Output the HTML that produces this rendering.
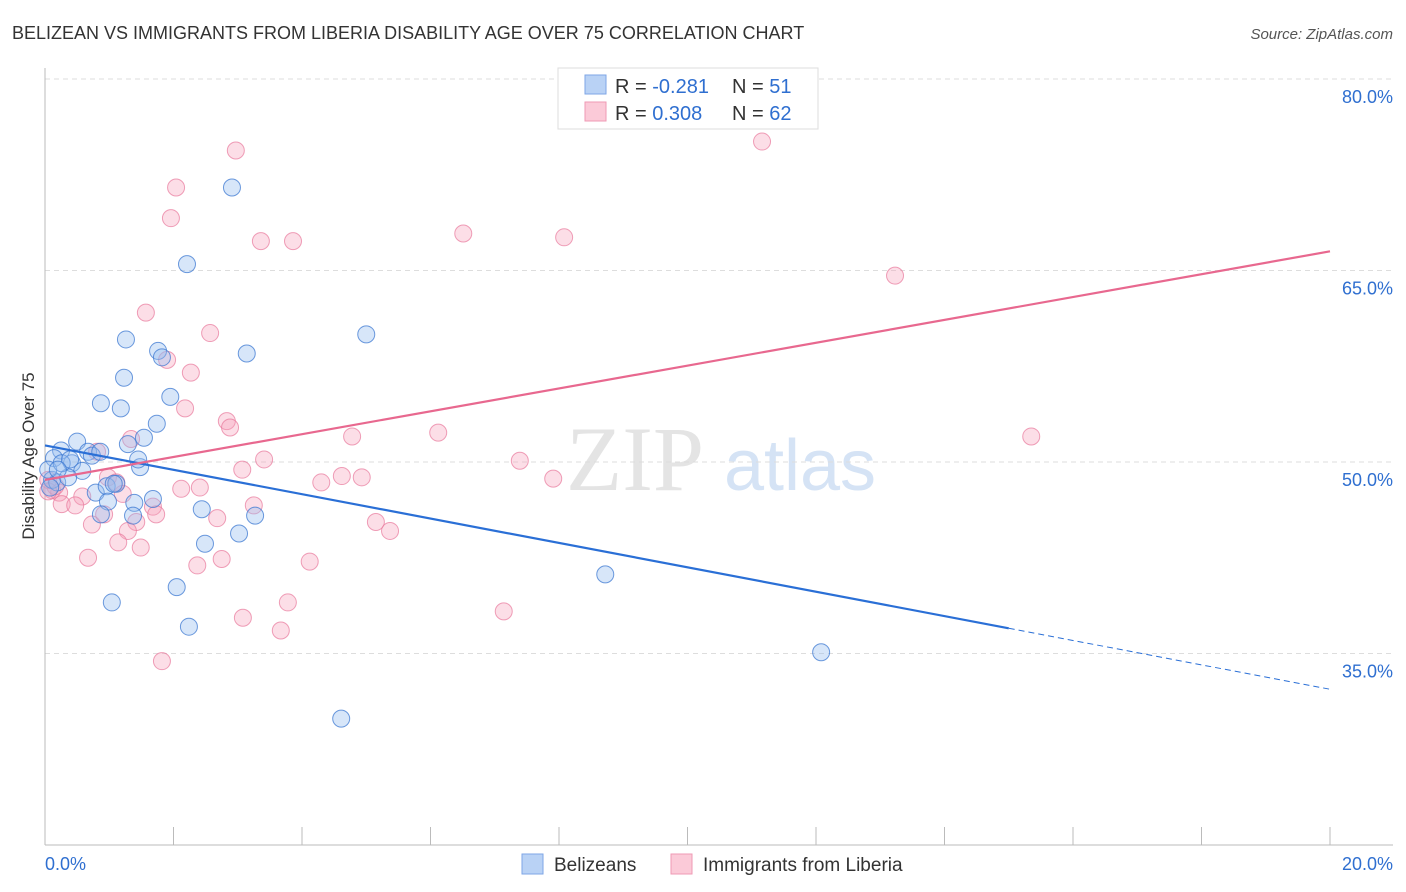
<!DOCTYPE html>
<html><head><meta charset="utf-8"><style>
body{margin:0;background:#fff;font-family:"Liberation Sans",sans-serif;}
svg{display:block}
</style></head><body>
<svg id="chart" width="1406" height="892">
<text x="12" y="39" font-size="18" fill="#333">BELIZEAN VS IMMIGRANTS FROM LIBERIA DISABILITY AGE OVER 75 CORRELATION CHART</text>
<text x="1393" y="39" font-size="15" fill="#555" font-style="italic" text-anchor="end">Source: ZipAtlas.com</text>
<g><text x="635" y="490" font-size="92" fill="#e4e4e4" font-family="Liberation Serif,serif" text-anchor="middle">ZIP</text><text x="800" y="490" font-size="72" fill="#d5e3f5" text-anchor="middle">atlas</text></g>
<g id="grid"></g><g id="axes"></g><g id="marks"></g>
<text transform="translate(34,456) rotate(-90)" font-size="17" fill="#333" text-anchor="middle">Disability Age Over 75</text>
<g>
<rect x="558" y="68" width="260" height="61" fill="#fff" stroke="#ddd"/>
<rect x="585" y="75" width="21" height="19" fill="#b9d2f5" stroke="#7ea6e6"/>
<rect x="585" y="102" width="21" height="19" fill="#fbcad8" stroke="#ef9ab4"/>
<text x="615" y="93" font-size="20" fill="#333">R = <tspan fill="#2f6fd0">-0.281</tspan></text>
<text x="732" y="93" font-size="20" fill="#333">N = <tspan fill="#2f6fd0"> 51</tspan></text>
<text x="615" y="120" font-size="20" fill="#333">R = <tspan fill="#2f6fd0"> 0.308</tspan></text>
<text x="732" y="120" font-size="20" fill="#333">N = <tspan fill="#2f6fd0">62</tspan></text>
</g>
<g>
<rect x="522" y="854" width="21" height="20" fill="#b9d2f5" stroke="#7ea6e6"/>
<text x="554" y="871" font-size="19" fill="#333">Belizeans</text>
<rect x="671" y="854" width="21" height="20" fill="#fbcad8" stroke="#ef9ab4"/>
<text x="703" y="871" font-size="19" fill="#333">Immigrants from Liberia</text>
</g>
</svg>
<script>
const yTicks=[35,50,65,80];
const yTickLabels=["35.0%","50.0%","65.0%","80.0%"];
const xTickLabels=["0.0%","20.0%"];
const blueX=[2.91,2.21,5.00,1.26,3.14,1.76,1.82,1.23,0.87,1.18,1.95,1.74,1.54,1.29,0.50,0.25,0.67,0.73,0.14,0.42,0.58,1.48,1.45,0.11,0.19,0.36,0.79,0.96,1.11,1.68,0.98,1.39,0.87,1.37,2.44,3.27,3.02,2.49,2.05,1.04,2.24,4.61,8.72,12.08,0.05,0.08,0.26,0.86,1.07,0.39,0.20];
const blueY=[71.5,65.5,60.0,59.6,58.5,58.7,58.2,56.6,54.6,54.2,55.1,53.0,51.9,51.4,51.6,50.9,50.8,50.5,50.3,49.9,49.3,49.6,50.2,48.6,48.4,48.8,47.6,48.1,48.3,47.1,46.9,46.8,45.9,45.8,46.3,45.8,44.4,43.6,40.2,39.0,37.1,29.9,41.2,35.1,49.4,48.0,49.9,50.8,48.3,50.2,49.4];
const pinkX=[11.16,2.97,2.04,1.96,3.36,3.86,6.51,8.08,13.23,1.57,2.57,1.90,2.27,2.18,2.83,2.88,4.78,6.12,15.35,1.34,0.81,3.41,3.07,7.39,4.62,4.93,7.91,4.30,0.98,2.41,2.12,1.21,0.58,1.11,0.11,0.22,0.16,0.05,0.26,0.47,0.92,1.68,1.73,2.68,3.25,5.15,5.37,1.42,1.29,0.73,1.14,1.49,0.67,2.75,2.37,4.12,7.14,3.78,3.08,3.67,1.82,0.05];
const pinkY=[75.1,74.4,71.5,69.1,67.3,67.3,67.9,67.6,64.6,61.7,60.1,58.0,57.0,54.2,53.2,52.7,52.0,52.3,52.0,51.8,50.8,50.2,49.4,50.1,48.9,48.8,48.7,48.4,48.8,48.0,47.9,47.5,47.3,48.4,47.8,47.6,48.1,48.6,46.7,46.6,45.9,46.5,45.9,45.6,46.6,45.3,44.6,45.3,44.6,45.1,43.7,43.3,42.5,42.4,41.9,42.2,38.3,39.0,37.8,36.8,34.4,47.7];
const blueTrend=[51.3,32.2]; const blueSolidEnd=15.0;
const pinkTrend=[48.6,66.5];
const NS="http://www.w3.org/2000/svg";
const X=v=>45+v/20*1285;
const Y=v=>462-(v-50)*191.5/15;
function mk(tag,attrs,parent){const e=document.createElementNS(NS,tag);for(const k in attrs)e.setAttribute(k,attrs[k]);document.getElementById(parent).appendChild(e);return e;}
yTicks.forEach((t,i)=>{
 const g=mk('line',{x1:45,x2:1393,y1:Y(t),y2:Y(t),stroke:'#ddd','stroke-dasharray':'5,4'},'grid');
 
 
 const l=mk('text',{x:1393,y:Y(t)+24,'font-size':18,fill:'#2f6fd0','text-anchor':'end'},'axes');l.textContent=yTickLabels[i];
 
 
});
let a=mk('line',{x1:45,x2:45,y1:68,y2:845,stroke:'#bbb'},'axes');


a=mk('line',{x1:45,x2:1393,y1:845,y2:845,stroke:'#bbb'},'axes');


for(let k=1;k<=10;k++){const t=mk('line',{x1:X(k*2),x2:X(k*2),y1:827,y2:845,stroke:'#bbb'},'axes');
 
 }
let xl=mk('text',{x:45,y:870,'font-size':18,fill:'#2f6fd0'},'axes');xl.textContent=xTickLabels[0];


xl=mk('text',{x:1393,y:870,'font-size':18,fill:'#2f6fd0','text-anchor':'end'},'axes');xl.textContent=xTickLabels[1];


pinkX.forEach((x,i)=>{const c=mk('circle',{cx:X(x),cy:Y(pinkY[i]),r:8.5,fill:'rgba(246,160,186,0.35)',stroke:'rgba(232,120,155,0.7)','stroke-width':1},'marks');
 
 });
blueX.forEach((x,i)=>{const c=mk('circle',{cx:X(x),cy:Y(blueY[i]),r:8.5,fill:'rgba(150,190,240,0.38)',stroke:'rgba(60,120,210,0.75)','stroke-width':1},'marks');
 
 });
const by=x=>blueTrend[0]+(blueTrend[1]-blueTrend[0])*x/20;
let ln=mk('line',{x1:X(0),y1:Y(by(0)),x2:X(blueSolidEnd),y2:Y(by(blueSolidEnd)),stroke:'#2a6fd6','stroke-width':2.2},'marks');


ln=mk('line',{x1:X(blueSolidEnd),y1:Y(by(blueSolidEnd)),x2:X(20),y2:Y(by(20)),stroke:'#2a6fd6','stroke-width':1,'stroke-dasharray':'6,4'},'marks');


ln=mk('line',{x1:X(0),y1:Y(pinkTrend[0]),x2:X(20),y2:Y(pinkTrend[1]),stroke:'#e8688f','stroke-width':2.2},'marks');


</script>
</body></html>
